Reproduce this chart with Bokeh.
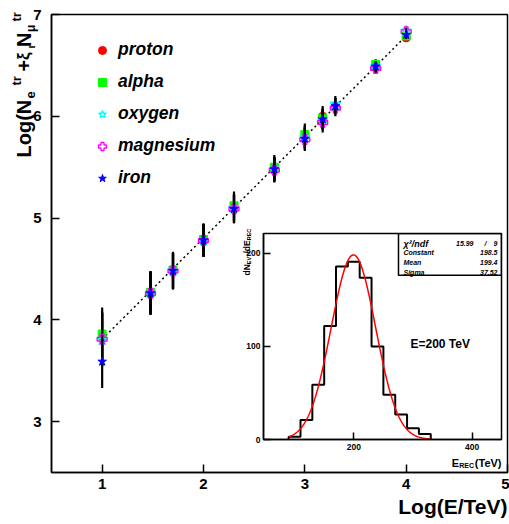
import numpy as np
from bokeh.plotting import figure
from bokeh.models import Range1d, FixedTicker, Label, Legend, LegendItem, BoxAnnotation, Column
from bokeh.embed import file_html
from bokeh.resources import INLINE

# ---------------- main panel data ----------------
log_energy = [1.0, 1.477, 1.699, 2.0, 2.301, 2.699, 3.0, 3.176, 3.301, 3.699, 4.0]
y_err = [0.26, 0.21, 0.18, 0.16, 0.14, 0.12, 0.11, 0.10, 0.08, 0.05, 0.04]
proton = [3.82, 4.27, 4.48, 4.78, 5.10, 5.48, 5.80, 6.00, 6.10, 6.48, 6.77]
alpha = [3.86, 4.27, 4.49, 4.79, 5.12, 5.50, 5.82, 5.98, 6.10, 6.51, 6.79]
oxygen = [3.80, 4.26, 4.48, 4.78, 5.10, 5.48, 5.79, 5.97, 6.12, 6.49, 6.84]
magnesium = [3.81, 4.26, 4.48, 4.78, 5.09, 5.47, 5.77, 5.94, 6.08, 6.47, 6.83]
iron = [3.59, 4.26, 4.48, 4.78, 5.09, 5.48, 5.78, 5.97, 6.10, 6.49, 6.80]
species = ["proton", "alpha", "oxygen", "magnesium", "iron"]
fit_x = [1.0, 4.0]
fit_y = [3.81, 6.79]
main_x_ticks = [1, 2, 3, 4, 5]
main_y_ticks = [3, 4, 5, 6, 7]

# ---------------- inset data ----------------
bin_edges = [90, 110, 130, 150, 170, 190, 210, 230, 250, 270, 290, 310, 330]
bin_counts = [3, 21, 59, 122, 186, 191, 174, 100, 48, 27, 12, 6]
fit_constant = 198.5
fit_mean = 199.4
fit_sigma = 37.52
fit_range = [90, 330]
chi2_text = "15.99"
ndf_text = "9"
inset_x_ticks = [200, 400]
inset_y_ticks = [0, 100, 200]

FONT = "Liberation Sans"


def no_align(fig):
    if "frame_align" in fig.properties():
        fig.frame_align = False


def style_axes(fig, size, standoff_x, standoff_y, tick_in):
    for ax in fig.axis:
        ax.axis_line_color = "black"
        ax.axis_line_width = 1.5
        ax.major_tick_line_color = "black"
        ax.major_tick_line_width = 1.5
        ax.major_tick_in = tick_in
        ax.major_tick_out = 0
        ax.minor_tick_line_color = None
        ax.major_label_text_font = FONT
        ax.major_label_text_font_style = "bold"
        ax.major_label_text_font_size = size
        ax.major_label_text_color = "black"
    fig.xaxis.major_label_standoff = standoff_x
    fig.yaxis.major_label_standoff = standoff_y


# ---------------- main figure ----------------
p = figure(frame_width=456, frame_height=458, x_range=Range1d(0.5, 5), y_range=Range1d(2.5, 7),
           output_backend="svg", toolbar_location=None,
           min_border_left=51, min_border_right=2, min_border_top=14, min_border_bottom=52)
no_align(p)
p.grid.visible = False
p.outline_line_color = "black"
p.outline_line_width = 1.5
p.background_fill_color = "white"
p.border_fill_color = "white"
p.xaxis.ticker = FixedTicker(ticks=main_x_ticks)
p.yaxis.ticker = FixedTicker(ticks=main_y_ticks)
style_axes(p, "15px", 6, 10, 8)

p.line(fit_x, fit_y, line_color="black", line_width=1.5, line_dash="2 3")

series = {"proton": proton, "alpha": alpha, "oxygen": oxygen, "magnesium": magnesium, "iron": iron}
marker_style = {
    "proton": dict(marker="circle", size=8, fill_color="#ff0000", line_color="#ff0000"),
    "alpha": dict(marker="square", size=8, fill_color="#00ff00", line_color="#00ff00"),
    "oxygen": dict(marker="star", size=11, fill_color=None, line_color="#00ffff", line_width=1.3),
    "magnesium": dict(marker="plus", size=10, fill_color=None, line_color="#ff00ff", line_width=1.3),
    "iron": dict(marker="star", size=9, fill_color="#0000ff", line_color="#0000ff"),
}
items = []
xe = np.array(log_energy)
ee = np.array(y_err)
for name in species:
    yv = np.array(series[name])
    p.segment(x0=xe, y0=yv - ee, x1=xe, y1=yv + ee, line_color="black", line_width=2.2)
    r = p.scatter(xe, yv, **marker_style[name])
    items.append(LegendItem(label=name, renderers=[r]))

legend = Legend(items=items, location=(31, 274), label_text_font=FONT,
                label_text_font_style="bold italic", label_text_font_size="17.5px",
                label_text_color="black", glyph_width=20, glyph_height=20, label_height=20,
                spacing=11, padding=10, margin=0, label_standoff=6,
                border_line_alpha=0, background_fill_alpha=0)
p.add_layout(legend)

# ---------------- text overlay (page pixel coordinates, y downwards) ----------------
o = figure(frame_width=509, frame_height=524, x_range=Range1d(0, 509), y_range=Range1d(524, 0),
           output_backend="svg", toolbar_location=None, min_border=0,
           x_axis_location=None, y_axis_location=None)
no_align(o)
o.grid.visible = False
o.outline_line_color = None
o.background_fill_alpha = 0
o.border_fill_alpha = 0
o.margin = (-524, 0, 0, 0)

# ---------------- inset figure ----------------
q = figure(frame_width=238, frame_height=206, x_range=Range1d(47.5, 449.5), y_range=Range1d(0, 221.5),
           output_backend="svg", toolbar_location=None,
           min_border_left=35, min_border_right=2, min_border_top=8, min_border_bottom=27)
no_align(q)
q.background_fill_alpha = 0
q.border_fill_alpha = 0
q.grid.visible = False
q.outline_line_color = "black"
q.outline_line_width = 1.5
q.xaxis.ticker = FixedTicker(ticks=inset_x_ticks)
q.yaxis.ticker = FixedTicker(ticks=inset_y_ticks)
style_axes(q, "8.5px", 4, 3, 7)

hx = [bin_edges[0]] + list(bin_edges)
hy = [0] + list(bin_counts) + [0]
q.step(hx, hy, mode="after", line_color="black", line_width=2)

e_fit = np.linspace(fit_range[0], fit_range[1], 241)
g_fit = fit_constant * np.exp(-0.5 * ((e_fit - fit_mean) / fit_sigma) ** 2)
q.line(e_fit, g_fit, line_color="#ff0000", line_width=1.5)

q.add_layout(BoxAnnotation(left=275.5, bottom=176.5, fill_alpha=0,
                           line_color="black", line_width=1.5, line_alpha=1))
q.margin = (-299, 0, 0, 228)


def lab(x, y, text, size, style="bold", angle=0.0, align="left", baseline="alphabetic"):
    o.add_layout(Label(x=x, y=y, text=text, angle=angle, text_font=FONT,
                       text_font_style=style, text_font_size=size, text_align=align,
                       text_baseline=baseline, text_color="black"))


A = np.pi / 2
# main titles
lab(507, 505.7, "Log(E/TeV)", "21px", align="right")
lab(23, 157, "Log(N", "20px", angle=A)
lab(30, 98, "e", "13px", angle=A)
lab(16, 85, "tr", "13px", angle=A)
lab(23, 71, "+", "20px", angle=A)
lab(23, 59.5, "ξ", "17px", angle=A)
lab(30, 48, "ι", "11px", angle=A)
lab(23, 46.5, "N", "20px", angle=A)
lab(30, 31.5, "μ", "12px", angle=A)
lab(16, 21, "tr", "13px", angle=A)

# inset titles
lab(501, 462, "(TeV)", "11px", align="right")
lab(473.5, 465, "REC", "7px", align="right")
lab(458.7, 462, "E", "11px", align="right")
lab(246, 275, "dN", "8.5px", angle=A)
lab(248.5, 263.7, "EVT", "5.5px", angle=A)
lab(246, 253, "/dE", "8.5px", angle=A)
lab(248.5, 239.8, "REC", "5.5px", angle=A)

# stats box text
lab(403, 243, "χ²/ndf", "9px", style="bold italic")
lab(473, 243, chi2_text, "7px", style="bold italic", align="right")
lab(485, 243, "/", "7px", style="bold italic", align="center")
lab(497, 243, ndf_text, "7px", style="bold italic", align="right")
lab(403, 252, "Constant", "7px", style="bold italic")
lab(497, 252, f"{fit_constant}", "7px", style="bold italic", align="right")
lab(403, 262, "Mean", "7px", style="bold italic")
lab(497, 262, f"{fit_mean}", "7px", style="bold italic", align="right")
lab(403, 272, "Sigma", "7px", style="bold italic")
lab(497, 272, f"{fit_sigma}", "7px", style="bold italic", align="right")
lab(410, 343, "E=200 TeV", "12px", baseline="middle")

layout = Column(p, o, q, spacing=0)
open("out.html", "w").write(file_html(layout, INLINE))
